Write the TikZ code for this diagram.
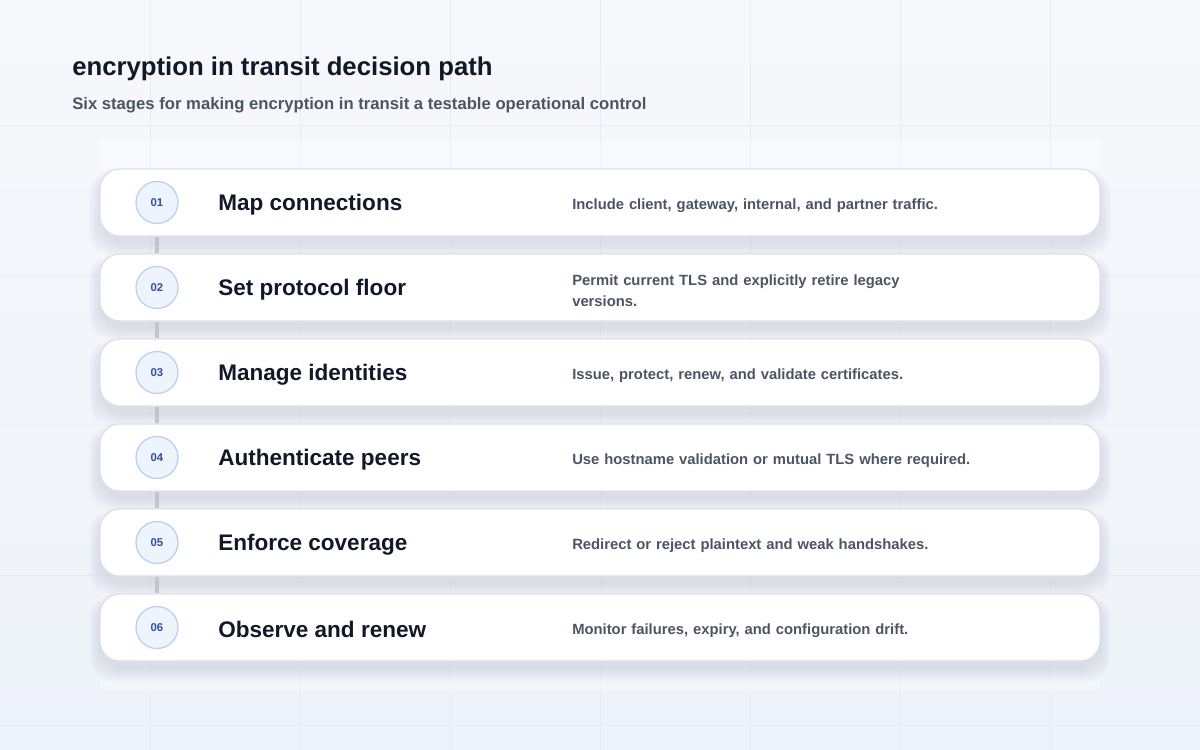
\documentclass[tikz,border=0pt]{standalone}
\usepackage{fontspec}
\setmainfont{Liberation Sans}
\pgfdeclarelayer{background}
\pgfsetlayers{background,main}
\definecolor{bgtop}{HTML}{F7F8FB}
\definecolor{bgbot}{HTML}{EEF2FA}
\definecolor{gridc}{HTML}{E8EBF2}
\definecolor{inkdark}{HTML}{111827}
\definecolor{inkgrey}{HTML}{4B5563}
\definecolor{cardline}{HTML}{DDE1E9}
\definecolor{dotfill}{HTML}{EEF4FE}
\definecolor{dotline}{HTML}{B9CDEE}
\definecolor{dotink}{HTML}{2E4E9E}
\definecolor{railc}{HTML}{C2C5CC}
\definecolor{shadowc}{HTML}{1E2A4A}
\tikzstyle{card}=[draw=cardline,line width=1pt,fill=white,rounded corners=15pt,minimum width=750pt,minimum height=50.25pt,inner sep=0pt]
\tikzstyle{cardshadow}=[fill=shadowc,fill opacity=0.016,rounded corners=18pt]
\tikzstyle{stepdot}=[circle,draw=dotline,line width=0.9pt,fill=dotfill,minimum size=31.5pt,inner sep=0pt,text=dotink,font=\fontsize{8.5}{10}\selectfont\bfseries]
\tikzstyle{steptitle}=[anchor=west,inner sep=0pt,text=inkdark,font=\fontsize{16.9}{20}\selectfont\bfseries]
\tikzstyle{stepnote}=[anchor=west,inner sep=0pt,text=inkgrey,text width=310pt,align=left,font=\fontsize{11.1}{15.5}\selectfont\bfseries]
\tikzstyle{rail}=[draw=railc,line width=3.3pt]

\begin{document}
\begin{tikzpicture}[x=0.75pt,y=-0.75pt]
    \useasboundingbox (0,0) rectangle (1200,750);
    % Background and faint grid
    \begin{pgfonlayer}{background}
        \shade[top color=bgtop,bottom color=bgbot] (0,0) rectangle (1200,750);
        \foreach \gx in {150,300,...,1050}
            \draw[gridc,line width=0.6pt] (\gx,0) -- (\gx,750);
        \foreach \gy in {125,275,425,575,725}
            \draw[gridc,line width=0.6pt] (0,\gy) -- (1200,\gy);
        \fill[white,opacity=0.3] (100,140) rectangle (1100,690);
    \end{pgfonlayer}

    % Title and subtitle
    \node[anchor=west,inner sep=0pt,text=inkdark,font=\fontsize{19.3}{23}\selectfont\bfseries] (title) at (72,69) {encryption in transit decision path};
    \node[anchor=west,inner sep=0pt,text=inkgrey,font=\fontsize{12.5}{15}\selectfont\bfseries] (subtitle) at (72,105) {Six stages for making encryption in transit a testable operational control};

    % Cards with number, title and note
    \foreach \y/\num/\name/\note in {
        202.5/01/Map connections/{Include client, gateway, internal, and partner traffic.},
        287.5/02/Set protocol floor/{Permit current TLS and explicitly retire legacy\\versions.},
        372.5/03/Manage identities/{Issue, protect, renew, and validate certificates.},
        457.5/04/Authenticate peers/{Use hostname validation or mutual TLS where required.},
        542.5/05/Enforce coverage/{Redirect or reject plaintext and weak handshakes.},
        627.5/06/Observe and renew/{Monitor failures, expiry, and configuration drift.}}
    {
        \begin{pgfonlayer}{background}
            \foreach \s in {0,3,...,18}
                \fill[cardshadow] (100-\s*0.6,\y-26-\s*0.4) rectangle (1100+\s*0.6,\y+42+\s*0.7);
        \end{pgfonlayer}
        \node[card] (card\num) at (600,\y) {};
        \node[stepdot] (dot\num) at (157,\y) {\num};
        \node[steptitle] (title\num) at (218,\y+2) {\name};
        \node[stepnote] (note\num) at (572,\y+3) {\note};
    }

    % Rail between the cards
    \foreach \source/\dest in {01/02,02/03,03/04,04/05,05/06}
        \path[rail] (card\source.south -| dot\source) -- (card\dest.north -| dot\dest);
\end{tikzpicture}
\end{document}
